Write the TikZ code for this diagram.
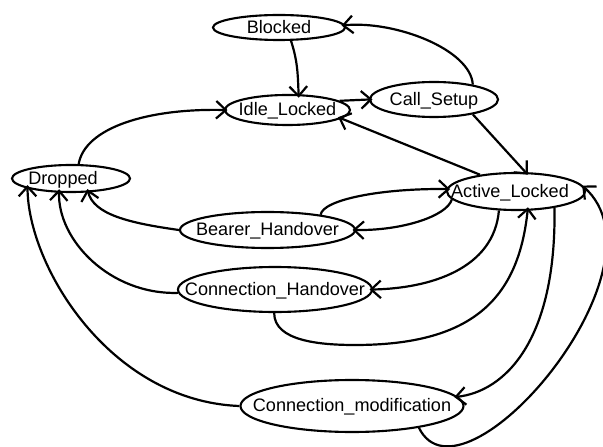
\documentclass[tikz,border=0pt]{standalone}
\usepackage{fontspec}
\setmainfont{Liberation Sans}
\usetikzlibrary{shapes.geometric,arrows.meta}

\begin{document}
\begin{tikzpicture}[scale=0.2,
  state/.style={draw=black, ellipse, line width=1.2pt, text height=1.5ex, text depth=.25ex,
    font=\fontsize{10.3}{12}\selectfont},
  trans/.style={draw=black, line width=1.25pt, shorten >=-2pt,
    -{Straight Barb[length=5.5pt,width=10pt]}}]
\tikzstyle{every node}+=[inner sep=0pt]
\useasboundingbox (0,0) rectangle (60.3,-44.7);
% states
\node [state, minimum width=2.64cm, minimum height=0.5cm] (blocked) at (27.9,-2.75) {\makebox[0pt]{Blocked}};
\node [state, minimum width=2.5cm, minimum height=0.6cm] (idle) at (28.75,-11) {\makebox[0pt]{Idle\_Locked}};
\node [state, minimum width=2.56cm, minimum height=0.7cm] (call) at (43.4,-9.95) {\makebox[0pt]{Call\_Setup}};
\node [state, minimum width=2.36cm, minimum height=0.54cm] (dropped) at (7.1,-17.85) {\makebox[0pt]{Dropped\hspace{0.32cm}}};
\node [state, minimum width=3.5cm, minimum height=0.72cm] (bearer) at (26.75,-23) {\makebox[0pt]{Bearer\_Handover}};
\node [state, minimum width=2.76cm, minimum height=0.74cm] (active) at (51.6,-19.15) {\makebox[0pt]{Active\_Locked\hspace{0.24cm}}};
\node [state, minimum width=3.88cm, minimum height=0.9cm] (chand) at (27.5,-28.95) {\makebox[0pt]{Connection\_Handover}};
\node [state, minimum width=4.46cm, minimum height=1.04cm] (cmod) at (35.2,-40.6) {\makebox[0pt]{Connection\_modification}};
\coordinate (dip) at (35.5,-34.5);
% transitions
\draw [trans] (blocked.-48) to[out=-72,in=92] (idle.55);
\draw [trans] (call.21) .. controls +(-0.2,3.5) and +(5,0.5) .. (blocked.2);
\draw [trans] (idle.10) -- (call.180);
\draw [trans] (call.-21) -- (active.64);
\draw [trans] (active.155) -- (idle.-9);
\draw [trans] (dropped.62) .. controls +(0.6,3.6) and +(-7.7,0.2) .. (idle.180);
\draw [trans] (bearer.180) .. controls +(-5,0.7) and +(0.5,-2.2) .. (dropped.-39);
\draw [trans] (bearer.16) .. controls +(0.2,1.5) and +(-6.5,0.1) .. (active.178);
\draw [trans] (active.187) .. controls +(-0.5,-1.7) and +(4.5,-0.1) .. (bearer.0);
\draw [trans] (active.228) .. controls +(-0.5,-5.8) and +(5.8,0.1) .. (chand.0);
\draw [trans] (chand.182) .. controls +(-6.8,-0.2) and +(-0.2,-4.7) .. (dropped.230);
\draw [trans] (chand.-92) .. controls +(0,-2.8) and +(-3.5,0) .. (dip)
  .. controls +(11.5,0) and +(-0.9,-9) .. (active.-59);
\draw [trans] (active.-23) .. controls +(0.2,-13.3) and +(4.7,0.5) .. (cmod.5);
\draw [trans] (cmod.180) .. controls +(-13,0.5) and +(0,-7.7) .. (dropped.193);
\draw [trans] (cmod.-18) .. controls +(4.3,-8.8) and +(9,-8) .. (active.3);
\end{tikzpicture}
\end{document}
